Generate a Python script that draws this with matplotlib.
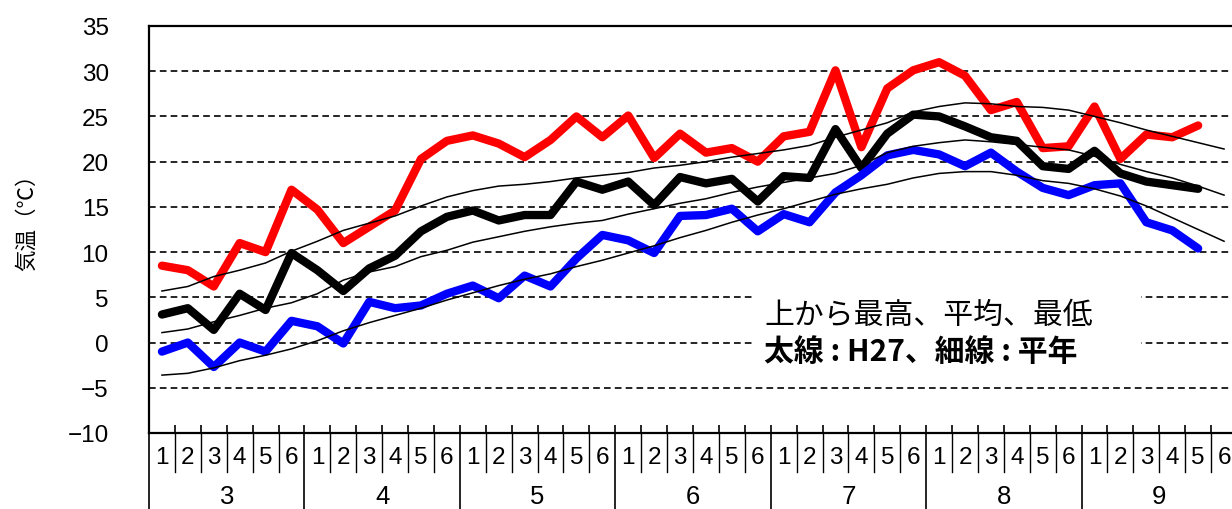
import numpy as np
import matplotlib
matplotlib.use("Agg")
import matplotlib.pyplot as plt
import matplotlib.transforms as mtransforms
from matplotlib.patches import Rectangle

months = [3, 4, 5, 6, 7, 8, 9]
periods = [1, 2, 3, 4, 5, 6]

# H27 (thick lines), 41 half-decades
max_h27 = [8.5, 8.0, 6.2, 11.0, 10.0, 16.9, 14.7, 11.0, 12.8, 14.6, 20.3, 22.3, 22.9, 22.0,
           20.5, 22.4, 25.0, 22.7, 25.1, 20.4, 23.1, 21.0, 21.5, 20.0, 22.8, 23.3, 30.1, 21.6,
           28.1, 30.1, 31.0, 29.5, 25.7, 26.6, 21.5, 21.7, 26.1, 20.3, 23.0, 22.7, 24.0]
mean_h27 = [3.1, 3.8, 1.4, 5.4, 3.6, 9.9, 8.0, 5.7, 8.2, 9.6, 12.3, 13.9, 14.6, 13.5,
            14.1, 14.1, 17.8, 16.9, 17.8, 15.2, 18.3, 17.6, 18.1, 15.6, 18.4, 18.2, 23.6, 19.3,
            23.1, 25.2, 25.0, 23.9, 22.7, 22.3, 19.5, 19.2, 21.2, 18.7, 17.8, 17.4, 17.0]
min_h27 = [-1.0, 0.0, -2.7, 0.0, -1.0, 2.4, 1.8, -0.1, 4.5, 3.8, 4.1, 5.4, 6.3, 4.9,
           7.4, 6.2, 9.3, 11.9, 11.3, 9.9, 14.0, 14.1, 14.8, 12.3, 14.2, 13.3, 16.6, 18.5,
           20.7, 21.3, 20.8, 19.5, 21.0, 18.9, 17.1, 16.3, 17.4, 17.6, 13.3, 12.4, 10.4]

# normals (thin lines), 42 half-decades
max_norm = [5.7, 6.2, 7.3, 8.0, 8.8, 10.1, 11.2, 12.4, 13.2, 14.0, 15.1, 16.1, 16.8, 17.3,
            17.5, 17.8, 18.2, 18.5, 18.8, 19.3, 19.6, 20.0, 20.5, 20.9, 21.3, 21.8, 22.7, 23.5,
            24.3, 25.5, 26.1, 26.5, 26.4, 26.1, 26.0, 25.7, 25.0, 24.3, 23.5, 22.8, 22.1, 21.4]
mean_norm = [1.1, 1.5, 2.3, 3.0, 3.8, 4.4, 5.4, 6.9, 7.8, 8.4, 9.5, 10.2, 11.1, 11.7,
             12.3, 12.8, 13.2, 13.5, 14.2, 14.8, 15.4, 15.9, 16.6, 17.2, 17.7, 18.2, 18.7, 19.6,
             21.0, 21.7, 22.1, 22.4, 22.2, 21.9, 21.6, 21.3, 20.6, 19.7, 18.9, 18.2, 17.3, 16.3]
min_norm = [-3.6, -3.4, -2.8, -2.0, -1.4, -0.7, 0.2, 1.3, 2.2, 3.0, 3.8, 4.7, 5.5, 6.3,
            7.0, 7.6, 8.4, 9.1, 9.9, 10.7, 11.6, 12.4, 13.3, 14.1, 14.8, 15.6, 16.4, 17.0,
            17.5, 18.2, 18.7, 18.9, 18.9, 18.5, 17.9, 17.6, 17.0, 16.2, 15.1, 13.8, 12.5, 11.2]

yticks = list(range(-10, 40, 5))

jp = ['Noto Sans CJK JP', 'DejaVu Sans']
plt.rcParams['font.family'] = ['Liberation Sans', 'Noto Sans CJK JP', 'DejaVu Sans']

W, H = 1232, 510
fig = plt.figure(figsize=(W / 100, H / 100), dpi=100)
ax = fig.add_axes([149 / W, 76 / H, 1088 / W, 407 / H])

n = len(months) * len(periods)
x_norm = np.arange(len(max_norm)) + 0.5
x_h27 = np.arange(len(max_h27)) + 0.5

for y, c in ((max_h27, '#ff0000'), (mean_h27, 'black'), (min_h27, '#0000ff')):
    ax.plot(x_h27, y, color=c, lw=6, solid_joinstyle='round', solid_capstyle='round', zorder=3)
for y in (max_norm, mean_norm, min_norm):
    ax.plot(x_norm, y, color='black', lw=1.1, zorder=4)

ax.set_xlim(0, n)
ax.set_ylim(-10, 35)
ax.set_yticks(yticks)
for v in yticks[1:-1]:
    ax.axhline(v, color='black', lw=1.2, ls=(0, (4, 2.5)), zorder=1)

ax.set_xticks(np.arange(1, n))
ax.tick_params(axis='x', direction='in', length=6, width=1.2, labelbottom=False)
ax.tick_params(axis='y', length=0, pad=29, labelsize=17.5)
for s in ax.spines.values():
    s.set_linewidth(1.6)

# legend note box
ax.add_patch(Rectangle((23.3, -3.5), 15.0, 11.0, facecolor='white', edgecolor='none', zorder=2))
ax.text(23.75, 3.1, '上から最高、平均、最低', fontsize=21.5, va='center', ha='left',
        family=jp, zorder=5)
ax.text(23.75, -0.9, '太線 : H27、細線 : 平年', fontsize=21.5, va='center', ha='left',
        family=jp, fontweight='bold', zorder=5)

# two-row category table under the axis
trans = mtransforms.blended_transform_factory(ax.transData, ax.transAxes)
for b in range(n + 1):
    if b % 6 == 0:
        ax.plot([b, b], [0, -0.19], transform=trans, color='black', lw=1.2, clip_on=False)
    else:
        ax.plot([b, b], [0, -0.096], transform=trans, color='black', lw=1.0, clip_on=False)
for mi, m in enumerate(months):
    for pi, p in enumerate(periods):
        ax.text(mi * 6 + pi + 0.5, -0.059, str(p), transform=trans, ha='center', va='center',
                fontsize=17.5)
    ax.text(mi * 6 + 3, -0.155, str(m), transform=trans, ha='center', va='center', fontsize=18.5)

fig.text(27 / W, 1 - 217 / H, '気温（℃）', rotation=90, fontsize=15.5, ha='center', va='center',
         family=jp)

fig.savefig('out.png', dpi=100)
